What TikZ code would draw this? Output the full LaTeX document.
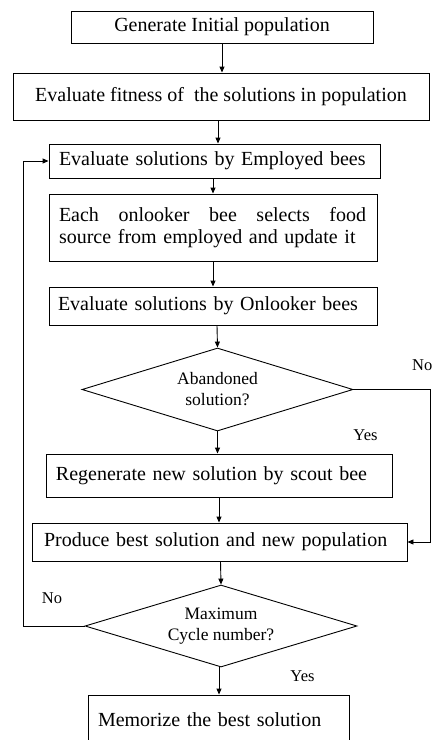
\documentclass[tikz,border=0pt]{standalone}
\usepackage{fontspec}
\setmainfont{Liberation Serif}
\usetikzlibrary{shapes.geometric,arrows.meta}
\begin{document}
\begin{tikzpicture}[x=1pt,y=-1pt,
  every node/.style={font=\fontsize{20}{22}\selectfont},
  boxc/.style={draw, line width=0.9pt, rectangle, inner sep=0pt, align=center},
  boxl/.style={draw, line width=0.9pt, rectangle, inner sep=0pt, align=left},
  dec/.style={draw, line width=0.9pt, diamond, inner sep=0pt, align=center,
    font=\fontsize{17.5}{21}\selectfont},
  lbl/.style={inner sep=0pt, font=\fontsize{16.5}{18}\selectfont},
  arr/.style={line width=0.9pt, -{Triangle[length=6pt,width=5pt]}},
  ln/.style={line width=0.9pt}]
\useasboundingbox (0,0) rectangle (432,740);
\clip (0,0) rectangle (432,740);

\node[boxc, minimum width=302pt, minimum height=32pt] (b1) at (222,27) {Generate Initial population};
\node[boxc, minimum width=416pt, minimum height=47pt] (b2) at (221,96.5) {Evaluate fitness of\ \ the solutions in population};
\node[boxl, minimum width=331pt, minimum height=34pt, text width=311pt] (b3) at (214.5,161) {Evaluate solutions by Employed bees};
\node[boxl, minimum width=328pt, minimum height=67pt, text width=308pt] (b4) at (213,227.5)
  {\hbox to 307pt{Each\hfill onlooker\hfill bee\hfill selects\hfill food}\\source from employed and update it};
\node[boxl, minimum width=328pt, minimum height=38pt, text width=310pt] (b5) at (213,306) {Evaluate solutions by Onlooker bees};
\node[dec, minimum width=271pt, minimum height=83pt, aspect=3.27] (d1) at (217.5,389.5) {Abandoned\\solution?};
\node[boxl, minimum width=346pt, minimum height=43pt, text width=326pt] (b6) at (219,475.5) {Regenerate new solution by scout bee};
\node[boxl, minimum width=375pt, minimum height=38pt, text width=351pt] (b7) at (219.5,542) {Produce best solution and new population};
\node[dec, minimum width=272pt, minimum height=82pt, aspect=3.32] (d2) at (221,626) {Maximum\\Cycle number?};
\node[boxl, minimum width=261pt, minimum height=50pt, text width=241pt] (b8) at (218.5,720) {Memorize the best solution};

\draw[arr] (b1.south) -- (b1.south |- b2.north);
\draw[arr] ([xshift=-3pt]b2.south) -- ([xshift=-3pt]b2.south |- b3.north);
\draw[arr] ([xshift=-1.5pt]b3.south) -- ([xshift=-1.5pt]b3.south |- b4.north);
\draw[arr] (b4.south) -- (b4.south |- b5.north);
\draw[arr] ([xshift=4pt]b5.south) -- (d1.north);
\draw[arr] (d1.south) -- (d1.south |- b6.north);
\draw[arr] (b6.south) -- (b6.south |- b7.north);
\draw[arr] ([xshift=1pt]b7.south) -- (d2.north);
\draw[arr] ([xshift=-2pt]d2.south) -- ([xshift=-2pt]d2.south |- b8.north);

\coordinate (rc) at (430,389.5);
\draw[arr] (d1.east) -- (rc) |- (b7.east);
\coordinate (lc) at (23,626);
\draw[arr] (d2.west) -- (lc) |- (b3.west);

\node[lbl, anchor=west] (no1) at (412,365) {No};
\node[lbl] (yes1) at (365.5,435) {Yes};
\node[lbl] (no2) at (52,598) {No};
\node[lbl] (yes2) at (302.5,676) {Yes};
\end{tikzpicture}
\end{document}
